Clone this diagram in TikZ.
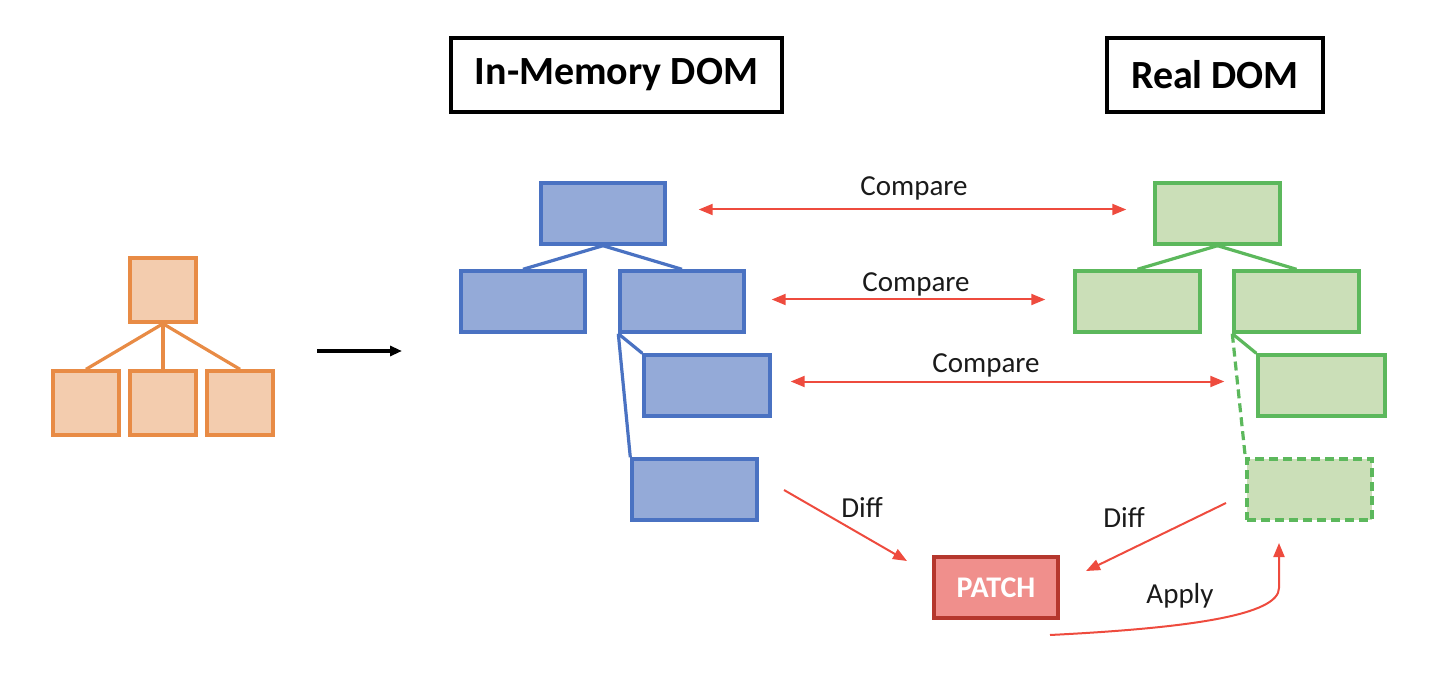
\documentclass[tikz,border=0pt]{standalone}
\usepackage{fontspec}
\setmainfont{Carlito}
\usetikzlibrary{arrows.meta}
\definecolor{bluefill}{HTML}{94AAD8}
\definecolor{blueline}{HTML}{4A72C2}
\definecolor{greenfill}{HTML}{CBDFB8}
\definecolor{greenline}{HTML}{5CB85C}
\definecolor{orangefill}{HTML}{F3CCAE}
\definecolor{orangeline}{HTML}{E88B45}
\definecolor{redarrow}{HTML}{EE4B3E}
\definecolor{patchfill}{HTML}{F08F8C}
\definecolor{patchline}{HTML}{B5372D}
\definecolor{txt}{HTML}{1A1A1A}
\tikzset{
  titlebox/.style={draw=black, line width=3.6pt, inner sep=0pt, font=\fontsize{40}{48}\selectfont\bfseries, text=black},
  bluebox/.style={draw=blueline, fill=bluefill, line width=3.4pt, minimum width=124pt, minimum height=61pt, inner sep=0pt},
  greenbox/.style={draw=greenline, fill=greenfill, line width=3.4pt, minimum width=125pt, minimum height=61pt, inner sep=0pt},
  orangebox/.style={draw=orangeline, fill=orangefill, line width=3.4pt, minimum width=66pt, minimum height=64pt, inner sep=0pt},
  blueedge/.style={draw=blueline, line width=3.2pt},
  greenedge/.style={draw=greenline, line width=3.2pt},
  orangeedge/.style={draw=orangeline, line width=3.2pt},
  redarr/.style={draw=redarrow, line width=2pt, -{Triangle[length=14pt,width=11pt]}},
  redboth/.style={draw=redarrow, line width=2pt, {Triangle[length=14pt,width=11pt]}-{Triangle[length=14pt,width=11pt]}},
  lbl/.style={font=\fontsize{29}{34}\selectfont, text=txt, inner sep=0pt}
}
\begin{document}
\begin{tikzpicture}[x=1pt,y=-1pt]
\useasboundingbox (0,0) rectangle (1446,676);
% titles
\node[titlebox, minimum width=331pt, minimum height=74pt] (t1) at (616.5,75) {In-Memory DOM};
\node[titlebox, minimum width=216pt, minimum height=74pt] (t2) at (1215,75) {Real DOM};
% orange tree
\node[orangebox] (o0) at (163,290) {};
\node[orangebox] (o1) at (86,403) {};
\node[orangebox] (o2) at (163,403) {};
\node[orangebox] (o3) at (240,403) {};
\draw[orangeedge] (o0.south) -- (o1.north);
\draw[orangeedge] (o0.south) -- (o2.north);
\draw[orangeedge] (o0.south) -- (o3.north);
% black arrow
\coordinate (ka) at (317,351);
\coordinate (kb) at (402,351);
\draw[line width=3.4pt, -{Triangle[length=12pt,width=10pt]}] (ka) -- (kb);
% blue tree
\node[bluebox] (b0) at (603,213.5) {};
\node[bluebox] (b1) at (523,301.5) {};
\node[bluebox] (b2) at (682,301.5) {};
\node[bluebox, minimum width=126pt] (b3) at (707,385.5) {};
\node[bluebox, minimum width=125pt] (b4) at (694.5,489.5) {};
\draw[blueedge] (b0.south) -- (b1.north);
\draw[blueedge] (b0.south) -- (b2.north);
\draw[blueedge] (b2.south west) -- (b3.north west);
\draw[blueedge] (b2.south west) -- (b4.north west);
% green tree
\node[greenbox] (g0) at (1217.5,213.5) {};
\node[greenbox] (g1) at (1137.5,301.5) {};
\node[greenbox] (g2) at (1296.5,301.5) {};
\node[greenbox, minimum width=127pt] (g3) at (1321.5,385.5) {};
\node[greenbox, dash pattern=on 9pt off 5pt] (g4) at (1309.5,489.5) {};
\draw[greenedge] (g0.south) -- (g1.north);
\draw[greenedge] (g0.south) -- (g2.north);
\draw[greenedge] (g2.south west) -- (g3.north west);
\draw[greenedge, dash pattern=on 9pt off 5pt] (g2.south west) -- (g4.north west);
% compare arrows
\draw[redboth] ([xshift=32pt,yshift=4pt]b0.east) -- ([xshift=-27pt,yshift=4pt]g0.west);
\node[lbl] (c1) at (914,188) {Compare};
\draw[redboth] ([xshift=26pt,yshift=2pt]b2.east) -- ([xshift=-28pt,yshift=2pt]g1.west);
\node[lbl] (c2) at (916,284) {Compare};
\draw[redboth] ([xshift=19pt,yshift=4pt]b3.east) -- ([xshift=-32pt,yshift=4pt]g3.west);
\node[lbl] (c3) at (986,365) {Compare};
% patch
\node[draw=patchline, fill=patchfill, line width=3.4pt, minimum width=124pt, minimum height=61pt, inner sep=0pt, text=white, font=\fontsize{30}{36}\selectfont\bfseries] (p) at (996,587.5) {PATCH};
% diff arrows
\coordinate (d1s) at (784,490);
\coordinate (d1e) at (907,561);
\draw[redarr] (d1s) -- (d1e);
\node[lbl] (dl1) at (862,507) {Diff};
\coordinate (d2s) at (1226,503);
\coordinate (d2e) at (1086,571);
\draw[redarr] (d2s) -- (d2e);
\node[lbl] (dl2) at (1124,517) {Diff};
% apply
\coordinate (as) at (1050,635);
\coordinate (ae) at (1279,543);
\draw[redarr] (as) .. controls (1190,628) and (1279,615) .. (1279,588) -- (ae);
\node[lbl] (al) at (1180,596) {Apply};
\end{tikzpicture}
\end{document}
